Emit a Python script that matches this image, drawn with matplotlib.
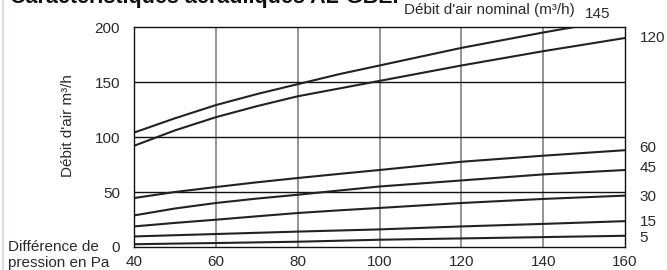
import matplotlib.pyplot as plt
import matplotlib.transforms as mtransforms
from matplotlib.lines import Line2D

plt.rcParams['font.family'] = ['Liberation Sans', 'DejaVu Sans']

# pressure difference (Pa)
pressure = [40, 50, 60, 70, 80, 90, 100, 120, 140, 160]

# air flow curves (m3/h), one per nominal flow
nominal = ['145', '120', '60', '45', '30', '15', '5']
flow_145 = [104, 117, 129, 139, 148, 157, 165, 181, 195, 208]
flow_120 = [92, 106, 118, 128, 137, 144, 151, 165, 178, 190]
flow_60 = [44.5, 50, 54.5, 58.8, 62.7, 66.4, 70, 77.5, 83, 88]
flow_45 = [28.7, 35, 40, 44, 47.5, 51.3, 55, 60.5, 66, 70]
flow_30 = [18.7, 21.9, 24.8, 27.9, 30.9, 33.3, 35.5, 40, 43.7, 46.7]
flow_15 = [9.6, 10.7, 11.8, 12.9, 14, 15, 16, 18.7, 21, 23.5]
flow_5 = [2.5, 3.1, 3.6, 4.2, 4.8, 5.7, 6.6, 7.8, 9, 10.2]

# label heights at right side (data units)
label_y = [212, 190, 90, 72, 45.5, 22.7, 8.2]

fig = plt.figure(figsize=(6.67, 2.70), dpi=100)
ax = fig.add_axes([134 / 667, 1 - 247 / 270, 491 / 667, 220 / 270])

ax.set_xlim(40, 160)
ax.set_ylim(0, 200)
ax.set_xticks([40, 60, 80, 100, 120, 140, 160])
ax.set_yticks([0, 50, 100, 150, 200])
ax.tick_params(length=0, labelsize=11, colors='#2a2a2a')
ax.tick_params(axis='x', pad=6)
ax.tick_params(axis='y', pad=10)

# grid
for x in [60, 80, 100, 120, 140]:
    ax.axvline(x, color='#777777', lw=1.1, zorder=1)
for y in [50, 100, 150]:
    ax.axhline(y, color='#111111', lw=1.0, zorder=1)
for s in ax.spines.values():
    s.set_color('#111111')
    s.set_linewidth(1.0)

curves = [flow_145, flow_120, flow_60, flow_45, flow_30, flow_15, flow_5]
for c in curves:
    ax.plot(pressure, c, color='#222222', lw=1.5, zorder=2)

# nominal flow labels
trans = mtransforms.blended_transform_factory(ax.transAxes, ax.transData)
for name, y in zip(nominal, label_y):
    xpos = 0.918 if name == '145' else 1.03
    ax.text(xpos, y, name, fontsize=11, color='#2a2a2a',
            ha='left', va='center', clip_on=False, transform=trans)

fig.text(575 / 667, 1 - 10 / 270, "Débit d'air nominal (m³/h)", fontsize=11,
         color='#2a2a2a', ha='right', va='center')

fig.text(68 / 667, 1 - 126 / 270, "Débit d'air m³/h", fontsize=11, color='#2a2a2a',
         rotation=90, ha='center', va='center')

fig.text(8 / 667, 1 - 255 / 270, "Différence de\npression en Pa", fontsize=11,
         color='#2a2a2a', ha='left', va='center', linespacing=1.1)

# title, cut off at the top in the original
fig.text(10 / 667, 1 - 3 / 270, "Caractéristiques aérauliques AL-GBEi", fontsize=15.5,
         fontweight='bold', color='#111111', ha='left', va='baseline')

# light blue border line on the left
fig.add_artist(Line2D([3 / 667, 3 / 667], [0, 1], color='#cddff0', lw=1.5,
                      transform=fig.transFigure))

fig.savefig('out.png', dpi=100)
